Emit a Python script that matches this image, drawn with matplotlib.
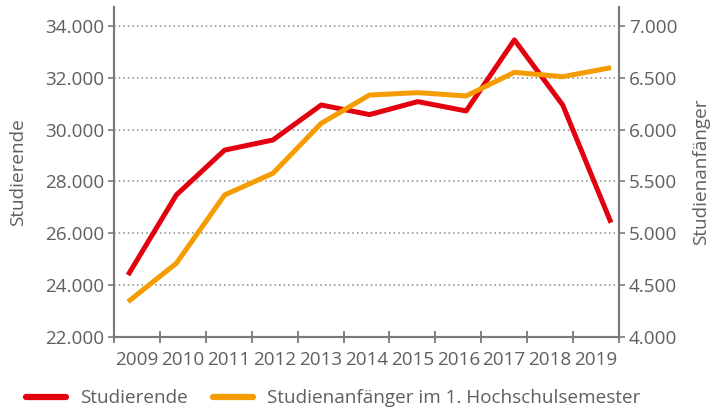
import numpy as np
import matplotlib.pyplot as plt
from matplotlib.ticker import FuncFormatter, FixedLocator

# data
years = [2009, 2010, 2011, 2012, 2013, 2014, 2015, 2016, 2017, 2018, 2019]
studierende = [24390, 27480, 29210, 29600, 30950, 30580, 31080, 30720, 33460, 30950, 26410]
anfaenger = [4340, 4711, 5370, 5579, 6061, 6334, 6357, 6325, 6553, 6511, 6598]

left_ticks = [22000, 24000, 26000, 28000, 30000, 32000, 34000]
right_ticks = [4000, 4500, 5000, 5500, 6000, 6500, 7000]

RED = "#e3000f"
ORANGE = "#f59c00"
GREY = "#5f5f5f"
AXC = "#7a7a7a"

plt.rcParams["font.family"] = ["Open Sans", "DejaVu Sans"]
plt.rcParams["font.size"] = 13.6


def de_fmt(v, pos=None):
    return f"{v:,.0f}".replace(",", ".")


fig = plt.figure(figsize=(7.24, 4.12), dpi=100)
ax = fig.add_axes([0.1575, 0.182, 0.6975, 0.801])
ax2 = ax.twinx()

ax.plot(years, studierende, color=RED, lw=3.6, solid_capstyle="butt", zorder=3)
ax2.plot(years, anfaenger, color=ORANGE, lw=3.6, solid_capstyle="butt", zorder=3)

# category boundaries are narrower than the spacing of the points
x0, x1 = 2008.71, 2019.166
ax.set_xlim(x0, x1)
edges = np.linspace(x0, x1, 12)
ax.xaxis.set_major_locator(FixedLocator(edges))
ax.xaxis.set_minor_locator(FixedLocator((edges[:-1] + edges[1:]) / 2))
ax.set_xticklabels([])
ax.set_xticklabels([str(y) for y in years], minor=True)
ax.tick_params(axis="x", which="major", direction="inout", length=9, width=1.3, color=AXC)
ax.tick_params(axis="x", which="minor", length=0, pad=10, labelcolor=GREY)

ax.set_ylim(22000, 34730)
ax2.set_ylim(4000, 7183)
ax.set_yticks(left_ticks)
ax2.set_yticks(right_ticks)
ax.yaxis.set_major_formatter(FuncFormatter(de_fmt))
ax2.yaxis.set_major_formatter(FuncFormatter(de_fmt))
ax.tick_params(axis="y", length=4, width=1.2, color=AXC, labelcolor=GREY, pad=3)
ax2.tick_params(axis="y", length=4, width=1.2, color=AXC, labelcolor=GREY, pad=3)

for g in left_ticks[1:]:
    ax.axhline(g, color="#888888", lw=1.1, ls=(0, (1, 2)), zorder=1)

for a in (ax, ax2):
    a.spines["top"].set_visible(False)
    for s in ("left", "right", "bottom"):
        a.spines[s].set_color(AXC)
        a.spines[s].set_linewidth(1.5)

ax.set_ylabel("Studierende", color=GREY)
ax2.set_ylabel("Studienanfänger", color=GREY)
ax.yaxis.set_label_coords(-0.172, 0.5)
ax2.yaxis.set_label_coords(1.145, 0.5)

h1, = ax.plot([], [], color=RED, lw=4.5, solid_capstyle="round")
h2, = ax.plot([], [], color=ORANGE, lw=4.5, solid_capstyle="round")
fig.legend([h1, h2], ["Studierende", "Studienanfänger im 1. Hochschulsemester"],
           loc="center left", bbox_to_anchor=(0.013, 0.033), ncol=2, frameon=False,
           handlelength=2.1, handletextpad=0.75, columnspacing=1.35, labelcolor=GREY)

fig.savefig("out.png", dpi=100)
